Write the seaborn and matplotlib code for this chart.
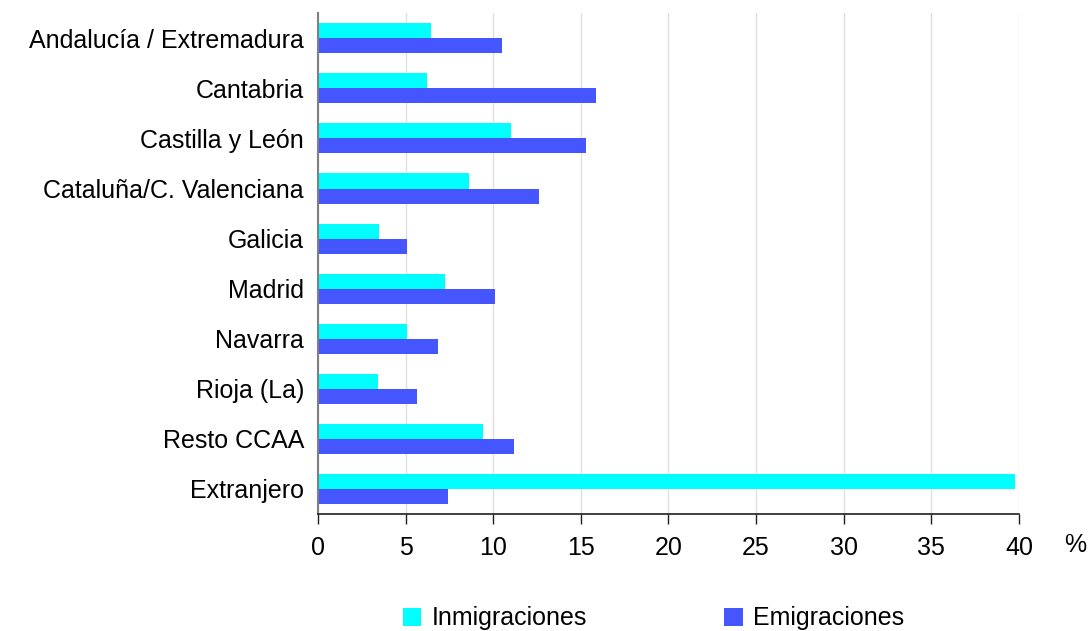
import pandas as pd
import seaborn as sns
import matplotlib.pyplot as plt

# Data (%)
regiones = ['Andalucía / Extremadura', 'Cantabria', 'Castilla y León',
            'Cataluña/C. Valenciana', 'Galicia', 'Madrid', 'Navarra',
            'Rioja (La)', 'Resto CCAA', 'Extranjero']
inmigraciones = [6.45, 6.2, 11.0, 8.6, 3.5, 7.25, 5.1, 3.4, 9.4, 39.8]
emigraciones = [10.5, 15.85, 15.3, 12.6, 5.1, 10.1, 6.85, 5.65, 11.2, 7.4]

df = pd.DataFrame({'region': regiones * 2,
                   'valor': inmigraciones + emigraciones,
                   'serie': ['Inmigraciones'] * len(regiones) + ['Emigraciones'] * len(regiones)})

sns.set_style('white')
plt.rcParams['font.family'] = ['Liberation Sans', 'DejaVu Sans']
plt.rcParams['text.color'] = 'black'
plt.rcParams['xtick.color'] = 'black'
plt.rcParams['ytick.color'] = 'black'

fig = plt.figure(figsize=(10.89, 6.31), dpi=100)
ax = fig.add_axes([0.292, 0.1854, 0.6437, 0.7936])

sns.barplot(data=df, x='valor', y='region', hue='serie', order=regiones,
            palette={'Inmigraciones': '#00FFFF', 'Emigraciones': '#4656FF'},
            width=0.6, saturation=1, linewidth=0, ax=ax, legend=True)

ax.set_xlim(0, 40)
ax.set_ylim(9.5, -0.5)
ax.set_xticks(range(0, 41, 5))
ax.xaxis.grid(True, color='#e0e0e0', linewidth=1)
ax.set_axisbelow(True)
ax.set_xlabel('')
ax.set_ylabel('')

for s in ['top', 'right']:
    ax.spines[s].set_visible(False)
ax.spines['left'].set_color('#808080')
ax.spines['left'].set_linewidth(1.5)
ax.spines['bottom'].set_color('#202020')
ax.spines['bottom'].set_linewidth(1.2)

ax.tick_params(axis='x', length=7, width=1, color='#202020', labelsize=18, pad=9, bottom=True)
ax.tick_params(axis='y', length=0, labelsize=18, pad=10)

fig.text(1075 / 1089, 1 - 545 / 631, '%', fontsize=18, ha='center', va='center')

ax.legend(loc='center', bbox_to_anchor=(0.6, 0.02), bbox_transform=fig.transFigure,
          ncol=2, frameon=False, fontsize=18, handlelength=0.75, handleheight=0.75,
          handletextpad=0.4, columnspacing=5.5)

fig.savefig('out.png', dpi=100)
